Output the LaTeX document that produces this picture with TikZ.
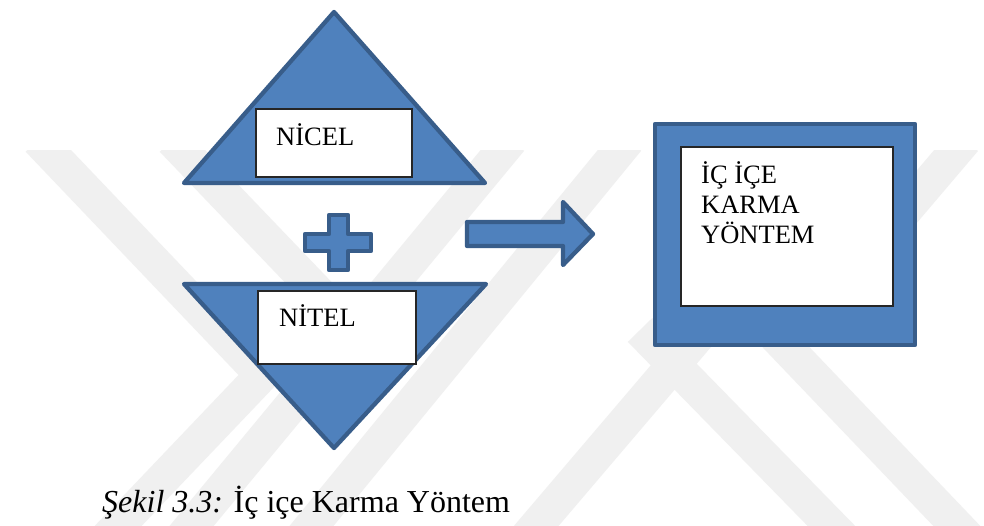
\documentclass[tikz,border=0pt]{standalone}
\usepackage{fontspec}
\setmainfont{Liberation Serif}
\definecolor{shapefill}{HTML}{4F81BD}
\definecolor{shapeline}{HTML}{385D8A}
\definecolor{wmark}{HTML}{F0F0F0}
\tikzset{
  blueshape/.style={fill=shapefill, draw=shapeline, line width=4.3pt, line join=round},
  wbox/.style={draw=black!85, fill=white, line width=1.2pt, inner sep=0pt},
  lbl/.style={inner sep=0pt, font=\fontsize{26.5}{30}\selectfont, text=black},
  band/.style={draw=wmark, line width=34pt, line cap=butt, line join=miter},
}
\begin{document}
\begin{tikzpicture}[x=1pt,y=-1pt]
\useasboundingbox (0,0) rectangle (984,525);
\fill[white] (0,0) rectangle (984,525);
% watermark
\begin{scope}
\clip (0,150) rectangle (984,525);
\draw[band] (38,140) -- (262,375) -- (100,545);
\draw[band] (172,140) -- (354,330);
\draw[band] (511,140) -- (180,540);
\draw[band] (628,140) -- (300,540);
\draw[band] (865,140) -- (520,545);
\draw[band] (965,140) -- (880,240);
\draw[band] (640,330) -- (850,545);
\draw[band] (760,320) -- (975,545);
\end{scope}
% upper triangle
\coordinate (ua) at (334,12);
\coordinate (ur) at (485,183);
\coordinate (ul) at (184,183);
\draw[blueshape] (ua) -- (ur) -- (ul) -- cycle;
\node[wbox, minimum width=156pt, minimum height=68pt] (nicelbox) at (334,143) {};
\node[lbl, anchor=base west] (nicel) at (276,145) {NİCEL};
% plus
\draw[blueshape] (329,215) -- (348,215) -- (348,234) -- (371,234) -- (371,251) -- (348,251) -- (348,270) -- (329,270) -- (329,251) -- (305,251) -- (305,234) -- (329,234) -- cycle;
% lower triangle
\coordinate (ll) at (184,284);
\coordinate (lr) at (486,284);
\coordinate (lb) at (334,448);
\draw[blueshape] (ll) -- (lr) -- (lb) -- cycle;
\node[wbox, minimum width=158pt, minimum height=73pt] (nitelbox) at (337,327.5) {};
\node[lbl, anchor=base west] (nitel) at (279,326) {NİTEL};
% arrow
\draw[blueshape] (467,222) -- (563,222) -- (563,202) -- (593,234) -- (563,265) -- (563,246) -- (467,246) -- cycle;
% big box
\node[blueshape, minimum width=260pt, minimum height=221pt, inner sep=0pt] (outerbox) at (785,234.5) {};
\node[wbox, minimum width=212pt, minimum height=159pt] (innerbox) at (787,226.5) {};
\node[lbl, anchor=base west] (icice) at (701,183) {İÇ İÇE};
\node[lbl, anchor=base west] (karma) at (701,213) {KARMA};
\node[lbl, anchor=base west] (yontem) at (701,243) {YÖNTEM};
% caption
\node[inner sep=0pt, anchor=base west, font=\fontsize{32}{36}\selectfont] (caption) at (102,512) {\textit{Şekil 3.3:} İç içe Karma Yöntem};
\end{tikzpicture}
\end{document}
